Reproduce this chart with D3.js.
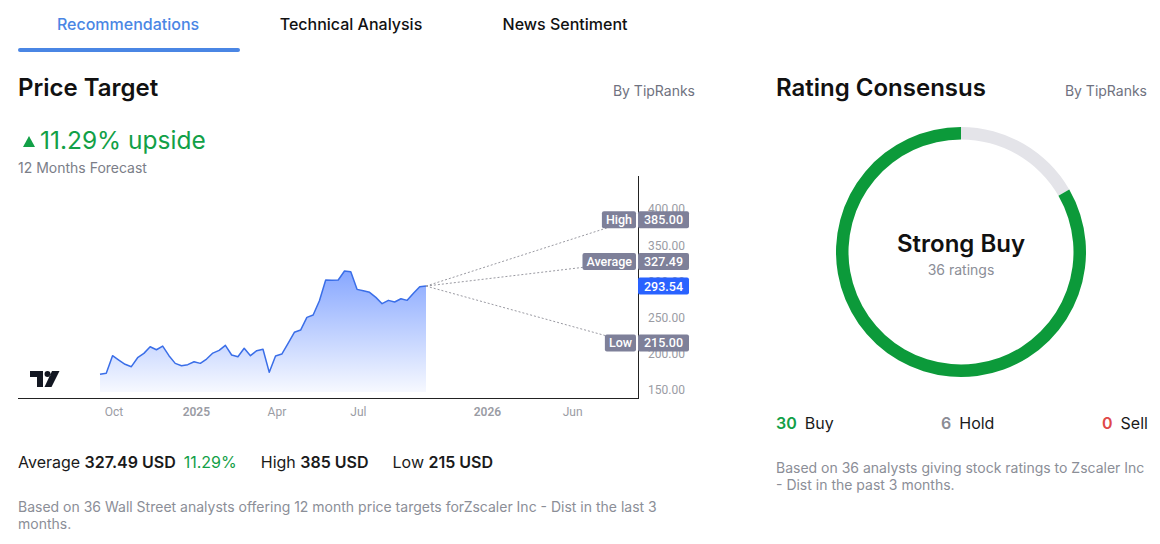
<!DOCTYPE html>
<html>
<head>
<meta charset="utf-8">
<script src="https://cdn.jsdelivr.net/npm/d3@7"></script>
<style>
  body { margin: 0; background: #fff; }
  svg text { font-family: Inter, "Noto Sans", sans-serif; }
  .tv text { font-family: Roboto, "Liberation Sans", sans-serif; }
</style>
</head>
<body>
<div id="chart"></div>
<script>
	// weekly closes, Sep 2024 - Sep 2025
	var startDate = "2024-09-16";
	var closes = [171.7, 173, 197.4, 191.4, 185.5, 182.2, 194.6, 200.6, 209.8, 205.6,
		210.7, 197.4, 186.8, 183.6, 185, 189, 186.8, 192.8, 201, 204.8,
		211.7, 198.3, 196, 207.6, 197.4, 204.3, 206.3, 174.4, 197, 199.7,
		214.5, 229.7, 232.8, 250.3, 253.5, 273.3, 301.9, 301.5, 301.9, 314.3,
		313.3, 289, 287.1, 284.9, 277.9, 269.2, 273.8, 271.5, 276, 273.8,
		283.5, 292.6, 293.54];

	// forecast
	var targetNames = ["High", "Average", "Low"];
	var targetValues = [385.00, 327.49, 215.00];
	var upside = "11.29%";

	// axes
	var priceTicks = [150, 200, 250, 300, 350, 400];
	var timeTickDates = ["2024-10-01", "2025-01-01", "2025-04-01", "2025-07-01", "2026-01-01", "2026-06-01"];
	var timeTickLabels = ["Oct", "2025", "Apr", "Jul", "2026", "Jun"];

	// ratings
	var ratingNames = ["Buy", "Hold", "Sell"];
	var ratingCounts = [30, 6, 0];
	var ratingColors = ["#0c9a3a", "#e4e4e9", "#e04848"];
	var ratingTextColors = ["#12a047", "#8a8c94", "#e04848"];

	var parse = d3.timeParse("%Y-%m-%d");
	var data = closes.map(function(v, i) {
		return { date: d3.timeDay.offset(parse(startDate), i * 7), value: v };
	});
	var lastPoint = data[data.length - 1];
	var targetDate = d3.timeYear.offset(lastPoint.date, 1);

	var svg = d3.select("#chart").append("svg")
		.attr("width", 1160)
		.attr("height", 544);

	// ---- tabs
	var tabs = [["Recommendations", 128, "#4a86e4"], ["Technical Analysis", 351, "#111"], ["News Sentiment", 565, "#111"]];
	tabs.forEach(function(t) {
		svg.append("text")
			.attr("x", t[1]).attr("y", 30)
			.attr("text-anchor", "middle")
			.attr("font-size", "16px")
			.attr("font-weight", 500)
			.attr("fill", t[2])
			.text(t[0]);
	});
	svg.append("rect")
		.attr("x", 18).attr("y", 48)
		.attr("width", 222).attr("height", 4)
		.attr("rx", 2)
		.attr("fill", "#4a86e4");

	// ---- headers
	function header(x, txt, rx) {
		svg.append("text")
			.attr("x", x).attr("y", 96)
			.attr("font-size", "24px")
			.attr("font-weight", 600)
			.attr("fill", "#111")
			.text(txt);
		svg.append("text")
			.attr("x", rx).attr("y", 96)
			.attr("text-anchor", "end")
			.attr("font-size", "14px")
			.attr("fill", "#6f7280")
			.text("By TipRanks");
	}
	header(18, "Price Target", 695);
	header(776, "Rating Consensus", 1147);

	// upside
	svg.append("path")
		.attr("d", "M23,147 L29,136 L35,147 Z")
		.attr("fill", "#12a047");
	svg.append("text")
		.attr("x", 40).attr("y", 149)
		.attr("font-size", "24.5px")
		.attr("fill", "#12a047")
		.text(upside + " upside");
	svg.append("text")
		.attr("x", 18).attr("y", 173)
		.attr("font-size", "14px")
		.attr("fill", "#7b7e88")
		.text("12 Months Forecast");

	// ---- price chart
	var paneBottom = 392;
	var x = d3.scaleTime()
		.domain([data[0].date, lastPoint.date, targetDate])
		.range([100, 426, 632]);
	var y = d3.scaleLinear()
		.domain([150, 400])
		.range([390, 209]);

	var chart = svg.append("g").attr("class", "tv");

	var grad = svg.append("defs").append("linearGradient")
		.attr("id", "areaGrad")
		.attr("gradientUnits", "userSpaceOnUse")
		.attr("x1", 0).attr("x2", 0)
		.attr("y1", y(d3.max(closes))).attr("y2", paneBottom);
	grad.append("stop").attr("offset", 0).attr("stop-color", "#2962ff").attr("stop-opacity", 0.56);
	grad.append("stop").attr("offset", 1).attr("stop-color", "#2962ff").attr("stop-opacity", 0.04);

	var area = d3.area()
		.x(function(d) { return x(d.date); })
		.y0(paneBottom)
		.y1(function(d) { return y(d.value); });
	var line = d3.line()
		.x(function(d) { return x(d.date); })
		.y(function(d) { return y(d.value); });

	chart.append("path").datum(data)
		.attr("d", area)
		.attr("fill", "url(#areaGrad)");
	chart.append("path").datum(data)
		.attr("d", line)
		.attr("fill", "none")
		.attr("stroke", "#3a6ee8")
		.attr("stroke-width", 1.5)
		.attr("stroke-linejoin", "round");

	// forecast dotted lines
	targetValues.forEach(function(v) {
		chart.append("line")
			.attr("x1", x(lastPoint.date)).attr("y1", y(lastPoint.value))
			.attr("x2", x(targetDate)).attr("y2", y(v))
			.attr("stroke", "#9a9aa2")
			.attr("stroke-width", 1)
			.attr("stroke-dasharray", "2,2");
	});

	// frame
	chart.append("line")
		.attr("x1", 18).attr("x2", 638)
		.attr("y1", 398.5).attr("y2", 398.5)
		.attr("stroke", "#222");
	chart.append("line")
		.attr("x1", 638.5).attr("x2", 638.5)
		.attr("y1", 176).attr("y2", 399)
		.attr("stroke", "#222");

	// price axis
	var yAxis = chart.append("g")
		.attr("transform", "translate(648,0)")
		.call(d3.axisRight(y).tickValues(priceTicks).tickSize(0).tickFormat(d3.format(".2f")));
	yAxis.select(".domain").remove();
	yAxis.selectAll("text")
		.attr("x", 0)
		.attr("font-size", "12px")
		.attr("font-family", "Roboto, sans-serif")
		.attr("fill", "#9a9ca4");

	// time axis
	var xAxis = chart.append("g")
		.attr("transform", "translate(0,399)")
		.call(d3.axisBottom(x)
			.tickValues(timeTickDates.map(parse))
			.tickSize(0)
			.tickFormat(function(d, i) { return timeTickLabels[i]; }));
	xAxis.select(".domain").remove();
	xAxis.selectAll("text")
		.attr("y", 8)
		.attr("font-size", "12px")
		.attr("font-family", "Roboto, sans-serif")
		.attr("fill", "#9a9ca4")
		.attr("font-weight", function(d, i) { return /^\d+$/.test(timeTickLabels[i]) ? 600 : 400; });

	// price labels
	function priceLabel(val, name, color) {
		var g = chart.append("g").attr("transform", "translate(0," + y(val) + ")");
		g.append("rect")
			.attr("x", 638).attr("y", -8.5)
			.attr("width", 51).attr("height", 17)
			.attr("rx", 2)
			.attr("fill", color);
		g.append("text")
			.attr("x", 663.5).attr("y", 4.5)
			.attr("text-anchor", "middle")
			.attr("font-size", "12.5px")
			.attr("font-weight", 500)
			.attr("fill", "#fff")
			.text(d3.format(".2f")(val));
		if (name) {
			var t = g.append("text")
				.attr("x", 636 - 4).attr("y", 4.5)
				.attr("text-anchor", "end")
				.attr("font-size", "12.5px")
				.attr("font-weight", 500)
				.attr("fill", "#fff")
				.text(name);
			var w = t.node().getComputedTextLength() + 8;
			g.insert("rect", "text")
				.attr("x", 636 - w).attr("y", -8.5)
				.attr("width", w).attr("height", 17)
				.attr("rx", 2)
				.attr("fill", color);
		}
	}
	targetValues.forEach(function(v, i) { priceLabel(v, targetNames[i], "#7e8099"); });
	priceLabel(lastPoint.value, null, "#2962ff");

	// tradingview logo
	svg.append("path")
		.attr("d", "M30,371 H43 V387 H37 V377 H30 Z M47.5,374 m-3,0 a3,3 0 1,0 6,0 a3,3 0 1,0 -6,0 M52,371 H59.5 L51.5,387 H44.5 Z")
		.attr("fill", "#131722");

	// summary row
	var summary = svg.append("text")
		.attr("x", 18).attr("y", 468)
		.attr("font-size", "16px")
		.attr("fill", "#1a1a1a");
	summary.append("tspan").text("Average ");
	summary.append("tspan").attr("font-weight", 600).text(d3.format(".2f")(targetValues[1]) + " USD");
	summary.append("tspan").attr("dx", 8).attr("fill", "#12a047").text(upside);
	summary.append("tspan").attr("dx", 24).text("High ");
	summary.append("tspan").attr("font-weight", 600).text(targetValues[0] + " USD");
	summary.append("tspan").attr("dx", 24).text("Low ");
	summary.append("tspan").attr("font-weight", 600).text(targetValues[2] + " USD");

	function note(xp, yp, lines) {
		lines.forEach(function(l, i) {
			svg.append("text")
				.attr("x", xp).attr("y", yp + i * 17)
				.attr("font-size", "14px")
				.attr("fill", "#8b8e97")
				.text(l);
		});
	}
	note(18, 512, ["Based on 36 Wall Street analysts offering 12 month price targets forZscaler Inc - Dist in the last 3", "months."]);

	// ---- rating donut
	var cx = 961, cy = 252;
	var ringOrder = [1, 0, 2];
	var pie = d3.pie().sort(null).value(function(i) { return ratingCounts[i]; });
	var arc = d3.arc().innerRadius(112.5).outerRadius(125);
	svg.append("g")
		.attr("transform", "translate(" + cx + "," + cy + ")")
		.selectAll("path")
		.data(pie(ringOrder))
		.enter().append("path")
			.attr("d", arc)
			.attr("fill", function(d) { return ratingColors[d.data]; });

	var total = d3.sum(ratingCounts);
	svg.append("text")
		.attr("x", cx).attr("y", cy)
		.attr("text-anchor", "middle")
		.attr("font-size", "24px")
		.attr("font-weight", 600)
		.attr("fill", "#111")
		.text("Strong Buy");
	svg.append("text")
		.attr("x", cx).attr("y", cy + 23)
		.attr("text-anchor", "middle")
		.attr("font-size", "14px")
		.attr("fill", "#8b8e97")
		.text(total + " ratings");

	// rating counts
	var countX = [776, 941, 1102];
	ratingNames.forEach(function(n, i) {
		var t = svg.append("text")
			.attr("x", countX[i]).attr("y", 429)
			.attr("font-size", "16px");
		t.append("tspan").attr("font-weight", 600).attr("fill", ratingTextColors[i]).text(ratingCounts[i]);
		t.append("tspan").attr("dx", 8).attr("fill", "#1a1a1a").text(n);
	});

	note(776, 473, ["Based on 36 analysts giving stock ratings to Zscaler Inc", "- Dist in the past 3 months."]);
</script>
</body>
</html>
